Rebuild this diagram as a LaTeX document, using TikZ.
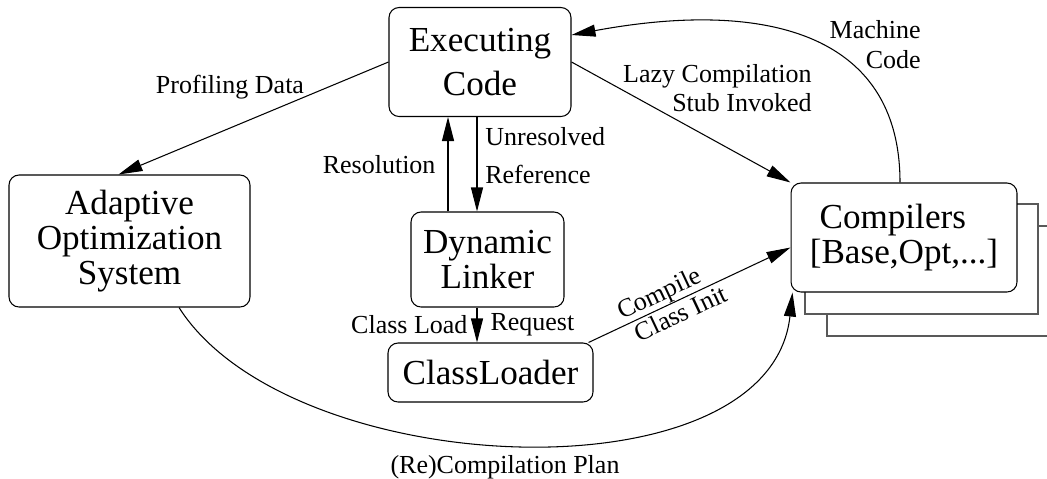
\documentclass[tikz,border=0pt]{standalone}
\usepackage{fontspec}
\setmainfont{Liberation Serif}
\usetikzlibrary{arrows.meta,calc}

\begin{document}
\begin{tikzpicture}[x=0.02cm,y=-0.02cm,
	box/.style={draw,semithick,rounded corners=0.2cm,fill=white,align=center,inner sep=0pt,font=\fontsize{20}{20}\selectfont},
	lbl/.style={inner sep=0pt,font=\fontsize{14.8}{16.5}\selectfont},
	arr/.style={-{Triangle[length=0.48cm,width=0.24cm]},semithick}]
	\useasboundingbox (0,0) rectangle (1047,478);
	
	%stacked compilers
	\draw[semithick,black!65] (827,226) rectangle (1070,336);
	\draw[semithick,black!65,fill=white] (805,204) rectangle (1038,314);
	
	%boxes
	\node[box,minimum width=3.64cm,minimum height=2.18cm,font=\fontsize{20}{25}\selectfont] (exec) at (480,62) {Executing\\Code};
	\node[box,minimum width=4.82cm,minimum height=2.64cm] (aos) at (129.5,241) {Adaptive\\Optimization\\System};
	\node[box,minimum width=3.06cm,minimum height=1.9cm] (linker) at (487.5,259.5) {Dynamic\\Linker};
	\node[box,minimum width=4.1cm,minimum height=1.18cm] (loader) at (490.5,372.5) {ClassLoader};
	\node[box,minimum width=4.52cm,minimum height=2.18cm] (comp) at (904,237.5) {Compilers\hspace*{0.45cm}\\{[Base,Opt,...]}};
	
	%arrows
	\draw[arr] (exec.west) -- ($(aos.north)+(-11,0)$);	%profiling
	\draw[arr] (exec.east) -- (comp.north west);		%lazy stub
	\draw[arr] ($(comp.north)+(-4,0)$) .. controls (900,30) and (760,0) .. ($(exec.east)+(0,-27)$);	%machine code
	\draw[arr] ($(exec.south)+(-3,0)$) -- ($(linker.north)+(-10.5,0)$);	%unresolved
	\draw[arr] ($(linker.north)+(-39.5,0)$) -- ($(exec.south)+(-32,0)$)
		node[lbl,midway,left=0.24cm] (res) {Resolution};
	\draw[arr] ($(linker.south)+(-10.5,0)$) -- ($(loader.north)+(-13.5,0)$)
		node[lbl,midway,left=0.18cm] (cl) {Class Load}
		node[lbl,midway,right=0.26cm] (req) {Request};
	\draw[arr] ($(loader.north east)+(-5,0)$) -- ($(comp.west)+(0,10)$)
		node[lbl,sloped,pos=0.38,above=0pt] (cmp) {Compile}
		node[lbl,sloped,pos=0.43,below=0.06cm] (ci) {Class Init};
	\draw[arr] ($(aos.south)+(49.5,0)$) .. controls (290,482) and (770,502) .. ($(comp.south west)+(2,0)$);	%plan
	
	%labels
	\node[lbl] (pd) at (230,87) {Profiling Data};
	\node[lbl,align=right,anchor=east] (lazy) at (812,88) {Lazy Compilation\\Stub Invoked};
	\node[lbl,align=right,anchor=east,font=\fontsize{14.8}{17}\selectfont] (mc) at (921,45) {Machine\\Code};
	\node[lbl,align=left,anchor=west,font=\fontsize{14.8}{21.6}\selectfont] (unres) at (485,156) {Unresolved\\Reference};
	\node[lbl] (plan) at (505,467) {(Re)Compilation Plan};
\end{tikzpicture}
\end{document}
